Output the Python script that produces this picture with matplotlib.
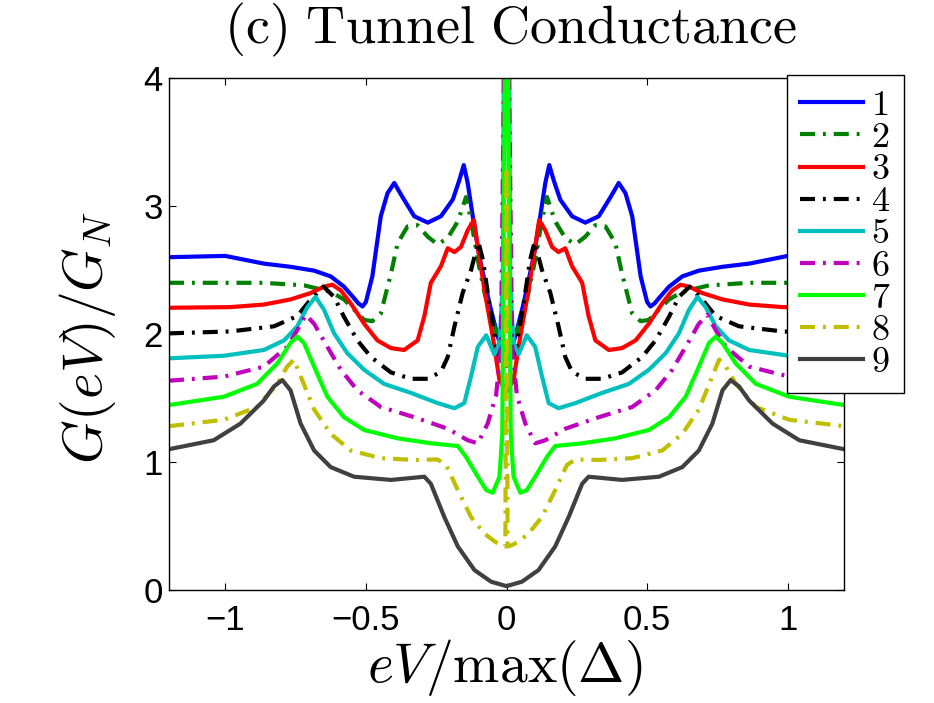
import matplotlib
matplotlib.use("Agg")
import matplotlib.pyplot as plt

plt.rcParams['mathtext.fontset'] = 'cm'
plt.rcParams['font.family'] = ['Liberation Sans', 'DejaVu Sans']

labels = ['1', '2', '3', '4', '5', '6', '7', '8', '9']
xticks = [-1, -0.5, 0, 0.5, 1]
xticklabels = ['\u22121', '\u22120.5', '0', '0.5', '1']
yticks = [0, 1, 2, 3, 4]

x1 = [-1.2,-1.0,-0.863,-0.768,-0.684,-0.625,-0.578,-0.542,-0.527,-0.512,-0.50,-0.477,-0.447,-0.423,-0.399,-0.37,-0.328,-0.28,-0.233,-0.191,-0.168,-0.152,-0.138,-0.12,-0.096,-0.061,-0.031,-0.015,0.0,0.015,0.031,0.061,0.096,0.12,0.138,0.152,0.168,0.191,0.233,0.28,0.328,0.37,0.399,0.423,0.447,0.477,0.50,0.512,0.527,0.542,0.578,0.625,0.684,0.768,0.863,1.0,1.2]
y1 = [2.60,2.61,2.55,2.525,2.495,2.45,2.37,2.28,2.24,2.215,2.25,2.45,2.92,3.10,3.18,3.07,2.92,2.87,2.92,3.05,3.20,3.32,3.18,2.92,2.60,2.24,1.98,1.88,1.84,1.88,1.98,2.24,2.60,2.92,3.18,3.32,3.20,3.05,2.92,2.87,2.92,3.07,3.18,3.10,2.92,2.45,2.25,2.215,2.24,2.28,2.37,2.45,2.495,2.525,2.55,2.61,2.60]

x2 = [-1.2,-0.863,-0.72,-0.625,-0.578,-0.542,-0.506,-0.477,-0.447,-0.411,-0.387,-0.352,-0.316,-0.28,-0.245,-0.209,-0.173,-0.144,-0.126,-0.102,-0.078,-0.043,-0.025,0.0,0.025,0.043,0.078,0.102,0.126,0.144,0.173,0.209,0.245,0.28,0.316,0.352,0.387,0.411,0.447,0.477,0.506,0.542,0.578,0.625,0.72,0.863,1.2]
y2 = [2.40,2.40,2.38,2.33,2.27,2.19,2.11,2.10,2.16,2.47,2.71,2.84,2.85,2.76,2.70,2.75,2.88,3.07,2.89,2.58,2.32,2.06,1.90,1.80,1.90,2.06,2.32,2.58,2.89,3.07,2.88,2.75,2.70,2.76,2.85,2.84,2.71,2.47,2.16,2.10,2.11,2.19,2.27,2.33,2.38,2.40,2.40]

x3 = [-1.2,-0.982,-0.863,-0.768,-0.696,-0.649,-0.619,-0.589,-0.554,-0.506,-0.459,-0.411,-0.364,-0.316,-0.292,-0.269,-0.233,-0.209,-0.185,-0.162,-0.138,-0.116,-0.102,-0.078,-0.049,-0.025,0.0,0.025,0.049,0.078,0.102,0.116,0.138,0.162,0.185,0.209,0.233,0.269,0.292,0.316,0.364,0.411,0.459,0.506,0.554,0.589,0.619,0.649,0.696,0.768,0.863,0.982,1.2]
y3 = [2.205,2.21,2.23,2.27,2.32,2.37,2.385,2.34,2.24,2.08,1.95,1.89,1.875,1.95,2.14,2.40,2.53,2.67,2.64,2.68,2.81,2.89,2.68,2.34,1.98,1.64,1.55,1.64,1.98,2.34,2.68,2.89,2.81,2.68,2.64,2.67,2.53,2.40,2.14,1.95,1.875,1.89,1.95,2.08,2.24,2.34,2.385,2.37,2.32,2.27,2.23,2.21,2.205]

x4 = [-1.2,-0.982,-0.827,-0.744,-0.696,-0.651,-0.613,-0.578,-0.53,-0.482,-0.411,-0.34,-0.28,-0.233,-0.209,-0.185,-0.156,-0.126,-0.1,-0.084,-0.061,-0.031,0.0,0.031,0.061,0.084,0.1,0.126,0.156,0.185,0.209,0.233,0.28,0.34,0.411,0.482,0.53,0.578,0.613,0.651,0.696,0.744,0.827,0.982,1.2]
y4 = [2.005,2.02,2.06,2.14,2.27,2.37,2.29,2.135,1.95,1.82,1.70,1.65,1.65,1.705,1.82,2.06,2.32,2.50,2.72,2.58,2.24,1.85,1.75,1.85,2.24,2.58,2.72,2.50,2.32,2.06,1.82,1.705,1.65,1.65,1.70,1.82,1.95,2.135,2.29,2.37,2.27,2.14,2.06,2.02,2.005]

x5 = [-1.2,-1.005,-0.863,-0.791,-0.744,-0.708,-0.679,-0.649,-0.613,-0.566,-0.506,-0.435,-0.34,-0.245,-0.185,-0.15,-0.126,-0.102,-0.072,-0.043,-0.025,-0.013,-0.009,0.009,0.013,0.025,0.043,0.072,0.102,0.126,0.15,0.185,0.245,0.34,0.435,0.506,0.566,0.613,0.649,0.679,0.708,0.744,0.791,0.863,1.005,1.2]
y5 = [1.81,1.83,1.875,1.95,2.06,2.21,2.29,2.19,2.005,1.85,1.72,1.61,1.54,1.46,1.42,1.46,1.67,1.90,1.99,1.84,1.93,2.4,4.6,4.6,2.4,1.93,1.84,1.99,1.90,1.67,1.46,1.42,1.46,1.54,1.61,1.72,1.85,2.005,2.19,2.29,2.21,2.06,1.95,1.875,1.83,1.81]

x6 = [-1.2,-1.005,-0.863,-0.78,-0.744,-0.714,-0.684,-0.637,-0.589,-0.53,-0.447,-0.328,-0.209,-0.138,-0.102,-0.067,-0.037,-0.02,-0.006,0.006,0.02,0.037,0.067,0.102,0.138,0.209,0.328,0.447,0.53,0.589,0.637,0.684,0.714,0.744,0.78,0.863,1.005,1.2]
y6 = [1.635,1.667,1.745,1.90,2.03,2.15,2.08,1.90,1.72,1.56,1.43,1.35,1.26,1.17,1.146,1.30,1.52,1.9,4.6,4.6,1.9,1.52,1.30,1.146,1.17,1.26,1.35,1.43,1.56,1.72,1.90,2.08,2.15,2.03,1.90,1.745,1.667,1.635]

x7 = [-1.2,-1.005,-0.887,-0.815,-0.768,-0.744,-0.72,-0.684,-0.637,-0.578,-0.506,-0.387,-0.269,-0.173,-0.144,-0.102,-0.072,-0.049,-0.025,-0.015,-0.004,0.004,0.015,0.025,0.049,0.072,0.102,0.144,0.173,0.269,0.387,0.506,0.578,0.637,0.684,0.72,0.744,0.768,0.815,0.887,1.005,1.2]
y7 = [1.445,1.51,1.61,1.77,1.93,1.98,1.93,1.745,1.51,1.35,1.25,1.185,1.146,1.125,1.04,0.885,0.78,0.76,0.885,1.22,4.6,4.6,1.22,0.885,0.76,0.78,0.885,1.04,1.125,1.146,1.185,1.25,1.35,1.51,1.745,1.93,1.98,1.93,1.77,1.61,1.51,1.445]

x8 = [-1.2,-1.005,-0.887,-0.815,-0.78,-0.756,-0.732,-0.684,-0.625,-0.554,-0.447,-0.328,-0.245,-0.215,-0.173,-0.126,-0.078,-0.043,-0.019,-0.004,0.0,0.004,0.019,0.043,0.078,0.126,0.173,0.215,0.245,0.328,0.447,0.554,0.625,0.684,0.732,0.756,0.78,0.815,0.887,1.005,1.2]
y8 = [1.28,1.33,1.43,1.61,1.745,1.80,1.67,1.41,1.22,1.09,1.03,1.016,1.02,0.977,0.78,0.57,0.44,0.38,0.35,0.34,3.3,0.34,0.35,0.38,0.44,0.57,0.78,0.977,1.02,1.016,1.03,1.09,1.22,1.41,1.67,1.80,1.745,1.61,1.43,1.33,1.28]

x9 = [-1.2,-1.041,-0.946,-0.863,-0.827,-0.797,-0.768,-0.732,-0.684,-0.625,-0.542,-0.411,-0.292,-0.269,-0.221,-0.173,-0.114,-0.055,0.0,0.055,0.114,0.173,0.221,0.269,0.292,0.411,0.542,0.625,0.684,0.732,0.768,0.797,0.827,0.863,0.946,1.041,1.2]
y9 = [1.10,1.17,1.30,1.48,1.59,1.64,1.56,1.30,1.09,0.96,0.885,0.86,0.885,0.83,0.57,0.34,0.156,0.065,0.03,0.065,0.156,0.34,0.57,0.83,0.885,0.86,0.885,0.96,1.09,1.30,1.56,1.64,1.59,1.48,1.30,1.17,1.10]

xs = [x1, x2, x3, x4, x5, x6, x7, x8, x9]
ys = [y1, y2, y3, y4, y5, y6, y7, y8, y9]

colors = [(0, 0, 1), (0, 0.5, 0), (1, 0, 0), (0, 0, 0), (0, 0.75, 0.75),
          (0.75, 0, 0.75), (0, 1, 0), (0.75, 0.75, 0), (0.25, 0.25, 0.25)]
dashdot = (0, (3.6, 1.9, 0.7, 1.9))
styles = ['-', dashdot, '-', dashdot, '-', dashdot, '-', dashdot, '-']

W, H = 934, 703
fig = plt.figure(figsize=(W / 100, H / 100), dpi=100)
ax = fig.add_axes([169 / W, 1 - 590 / H, (844 - 169) / W, (590 - 78) / H])

for x, y, c, ls, lab in zip(xs, ys, colors, styles, labels):
    ax.plot(x, y, color=c, linestyle=ls, lw=3.0, label='$%s$' % lab,
            solid_joinstyle='round', dash_joinstyle='round')

ax.set_xlim(-1.2, 1.2)
ax.set_ylim(0, 4)
ax.set_xticks(xticks)
ax.set_xticklabels(xticklabels)
ax.set_yticks(yticks)
ax.tick_params(direction='in', length=5, width=0.8, labelsize=25,
               top=True, right=True)
ax.tick_params(axis='x', pad=10)
ax.tick_params(axis='y', pad=4.5)
for s in ax.spines.values():
    s.set_linewidth(1.0)

fig.text(505 / W, 1 - 667 / H, r'$eV/\max(\Delta)$', fontsize=40,
         ha='center', va='center')
fig.text(87 / W, 1 - 338 / H, r'$G(eV)/G_N$', fontsize=40,
         ha='center', va='center', rotation=90)
fig.text(511 / W, 1 - 30 / H, r'$\mathrm{(c)\ Tunnel\ Conductance}$',
         fontsize=39, ha='center', va='center')

leg = ax.legend(loc='upper left', bbox_to_anchor=(787 / W, 1 - 75 / H),
                bbox_transform=fig.transFigure, borderaxespad=0,
                fontsize=26, handlelength=1.75, handletextpad=0.22,
                labelspacing=-0.08, borderpad=0.36, fancybox=False,
                framealpha=1, edgecolor='black')
leg.get_frame().set_linewidth(1.0)

fig.savefig('out.png', dpi=100)
